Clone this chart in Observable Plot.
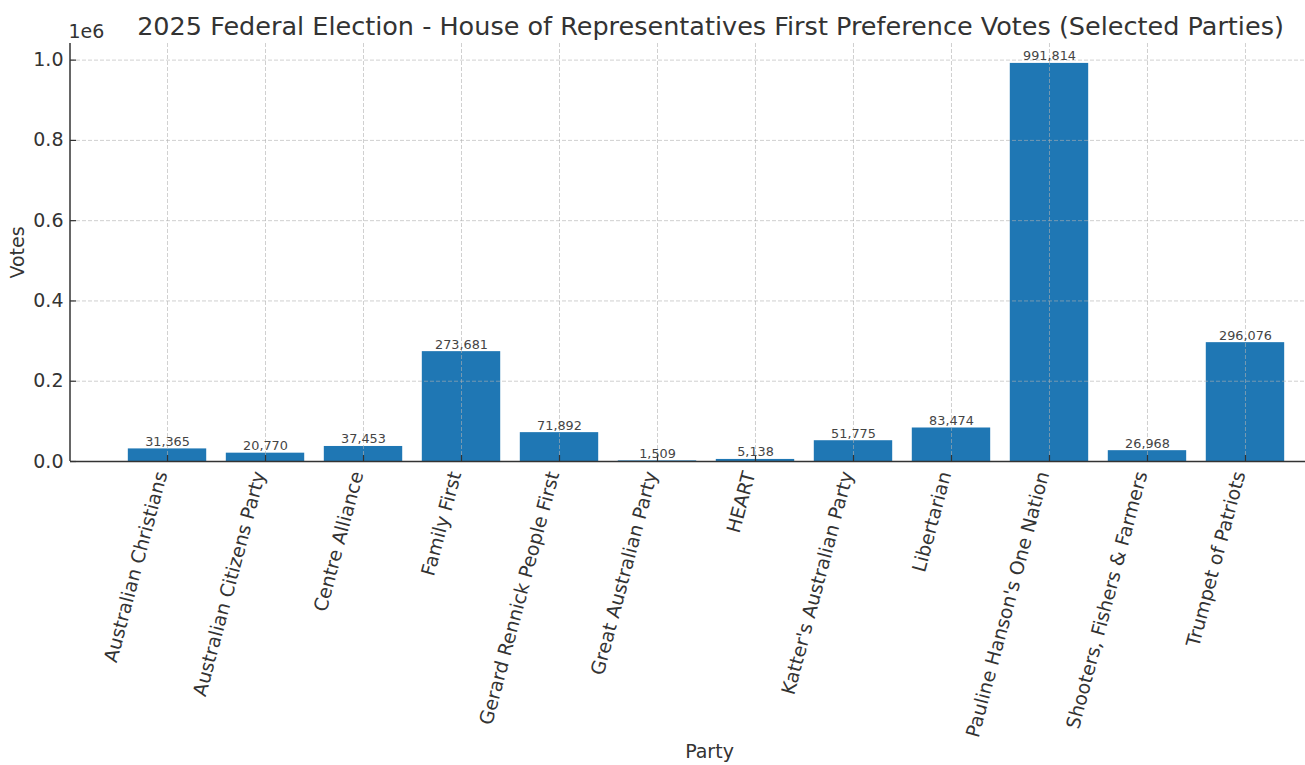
<!DOCTYPE html>
<html>
<head>
<meta charset="utf-8">
<script src="https://cdn.jsdelivr.net/npm/d3@7"></script>
<script src="https://cdn.jsdelivr.net/npm/@observablehq/plot@0.6"></script>
<style>
  html, body { margin: 0; padding: 0; background: #fff; overflow: hidden; }
</style>
</head>
<body>
<div id="chart"></div>
<script>
const parties = [
  "Australian Christians",
  "Australian Citizens Party",
  "Centre Alliance",
  "Family First",
  "Gerard Rennick People First",
  "Great Australian Party",
  "HEART",
  "Katter's Australian Party",
  "Libertarian",
  "Pauline Hanson's One Nation",
  "Shooters, Fishers & Farmers",
  "Trumpet of Patriots"
];
const votes = [31365, 20770, 37453, 273681, 71892, 1509, 5138, 51775, 83474, 991814, 26968, 296076];
const yTicks = [0, 200000, 400000, 600000, 800000, 1000000];
const yTickLabels = ["0.0", "0.2", "0.4", "0.6", "0.8", "1.0"];
const titleText = "2025 Federal Election - House of Representatives First Preference Votes (Selected Parties)";
const xLabel = "Party";
const yLabel = "Votes";
const offsetLabel = "1e6";

const data = parties.map((p, i) => ({party: p, votes: votes[i]}));
const fmt = d3.format(",");
const ink = "#333333";
const gridStyle = {stroke: "#b0b0b0", strokeOpacity: 0.6, strokeDasharray: "4,2", strokeWidth: 1};

const leftSpine = (index, scales, values, dims) => {
  const l = d3.create("svg:line")
    .attr("x1", dims.marginLeft).attr("x2", dims.marginLeft)
    .attr("y1", dims.marginTop).attr("y2", dims.height - dims.marginBottom)
    .attr("stroke", ink).attr("stroke-width", 1.5);
  return l.node();
};

const chart = Plot.plot({
  width: 1305,
  height: 765,
  marginTop: 43,
  marginBottom: 304,
  marginLeft: 70,
  marginRight: 0,
  style: {fontFamily: "DejaVu Sans", color: ink, background: "white", overflow: "hidden"},
  x: {type: "band", domain: parties, range: [70, 1342], paddingInner: 0.2, paddingOuter: 0.59, round: false, axis: null},
  y: {domain: [0, 1041405], axis: null},
  marks: [
    Plot.barY(data, {x: "party", y: "votes", fill: "#1f77b4"}),
    Plot.ruleX(parties, {x: d => d, ...gridStyle}),
    Plot.ruleY(yTicks.slice(1), {y: d => d, ...gridStyle}),
    Plot.tickX(parties, {x: d => d, insetTop: 412, stroke: ink, strokeWidth: 1.2}),
    Plot.tickY(yTicks, {y: d => d, insetRight: 1229, stroke: ink, strokeWidth: 1.2}),
    Plot.ruleY([0], {stroke: ink, strokeWidth: 1.5}),
    leftSpine,
    Plot.text(data, {x: "party", y: "votes", text: d => fmt(d.votes), dy: -3, lineAnchor: "bottom", fontSize: 12.8, fill: "#444"}),
    Plot.text(yTicks, {y: d => d, text: (d, i) => yTickLabels[i], frameAnchor: "left", dx: -7, textAnchor: "end", fontSize: 19, fill: ink}),
    Plot.text(parties, {x: d => d, text: d => d, frameAnchor: "bottom", dy: 12, rotate: -75, textAnchor: "end", lineAnchor: "bottom", fontSize: 19, fill: ink}),
    Plot.text([offsetLabel], {frameAnchor: "top-left", dx: -2, dy: -6, textAnchor: "start", lineAnchor: "bottom", fontSize: 19, fill: ink}),
    Plot.text([titleText], {frameAnchor: "top-left", dx: 640, dy: -9, textAnchor: "middle", lineAnchor: "bottom", fontSize: 25.5, fill: ink}),
    Plot.text([xLabel], {frameAnchor: "bottom-left", dx: 639, dy: 296, textAnchor: "middle", lineAnchor: "bottom", fontSize: 19, fill: ink}),
    Plot.text([yLabel], {frameAnchor: "left", dx: -53, rotate: -90, textAnchor: "middle", lineAnchor: "middle", fontSize: 19, fill: ink})
  ]
});
document.getElementById("chart").appendChild(chart);
</script>
</body>
</html>
